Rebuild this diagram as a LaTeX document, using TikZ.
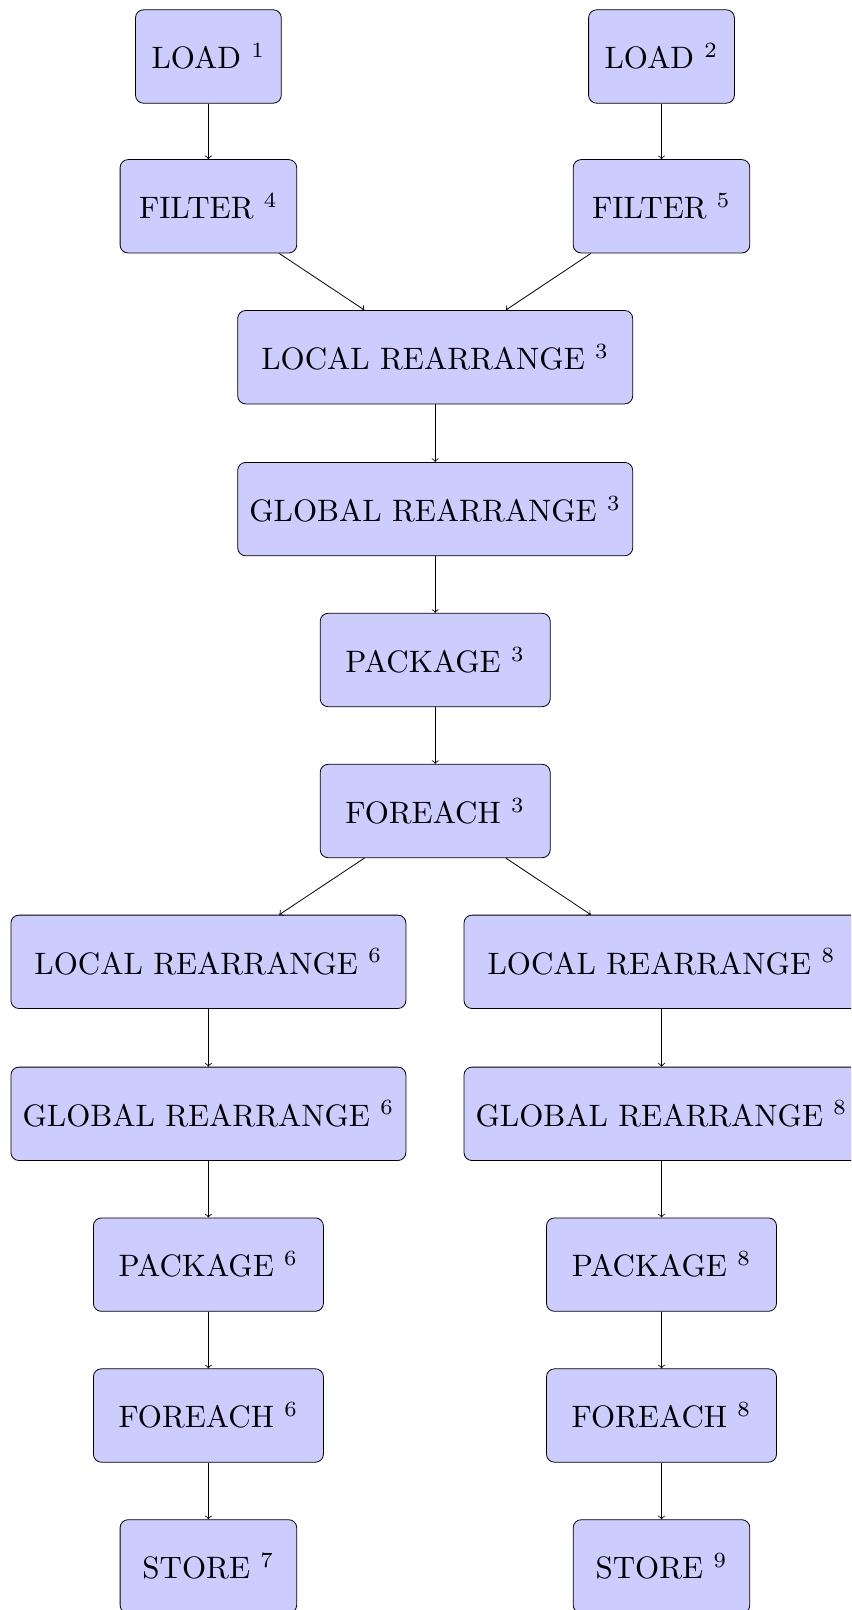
\documentclass[tikz,border=0pt]{standalone}
\newcommand{\lbl}[2]{\scalebox{1.55}{#1 $^{#2}$}}
\begin{document}
\begin{tikzpicture}[x=0.5pt,y=-0.5pt,
  box/.style={draw, fill=blue!20, rounded corners=4pt, minimum height=46.7pt, inner xsep=4pt},
  w1/.style={minimum width=72.9pt},
  w2/.style={minimum width=88.3pt},
  w3/.style={minimum width=115pt},
  w4/.style={minimum width=197.5pt},
  arr/.style={->}]
\useasboundingbox (0,0) rectangle (851,1610);
\clip (0,0) rectangle (851,1610);
\node[box,w1] (load1) at (208.4,56.5) {\lbl{LOAD}{1}};
\node[box,w1] (load2) at (661.5,56.5) {\lbl{LOAD}{2}};
\node[box,w2] (filter4) at (208.4,206.3) {\lbl{FILTER}{4}};
\node[box,w2] (filter5) at (661.5,206.3) {\lbl{FILTER}{5}};
\node[box,w4] (lr3) at (435.2,357.2) {\lbl{LOCAL REARRANGE}{3}};
\node[box,w4] (gr3) at (435.2,509.1) {\lbl{GLOBAL REARRANGE}{3}};
\node[box,w3] (pk3) at (435.2,660) {\lbl{PACKAGE}{3}};
\node[box,w3] (fe3) at (435.2,811) {\lbl{FOREACH}{3}};
\node[box,w4] (lr6) at (208.4,961.8) {\lbl{LOCAL REARRANGE}{6}};
\node[box,w4] (lr8) at (661.5,961.8) {\lbl{LOCAL REARRANGE}{8}};
\node[box,w4] (gr6) at (208.4,1113.8) {\lbl{GLOBAL REARRANGE}{6}};
\node[box,w4] (gr8) at (661.5,1113.8) {\lbl{GLOBAL REARRANGE}{8}};
\node[box,w3] (pk6) at (208.4,1264.6) {\lbl{PACKAGE}{6}};
\node[box,w3] (pk8) at (661.5,1264.6) {\lbl{PACKAGE}{8}};
\node[box,w3] (fe6) at (208.4,1415.5) {\lbl{FOREACH}{6}};
\node[box,w3] (fe8) at (661.5,1415.5) {\lbl{FOREACH}{8}};
\node[box,w2] (st7) at (208.4,1566.4) {\lbl{STORE}{7}};
\node[box,w2] (st9) at (661.5,1566.4) {\lbl{STORE}{9}};
\draw[arr] (load1) -- (filter4);
\draw[arr] (load2) -- (filter5);
\draw[arr] (filter4) -- (lr3);
\draw[arr] (filter5) -- (lr3);
\draw[arr] (lr3) -- (gr3);
\draw[arr] (gr3) -- (pk3);
\draw[arr] (pk3) -- (fe3);
\draw[arr] (fe3) -- (lr6);
\draw[arr] (fe3) -- (lr8);
\draw[arr] (lr6) -- (gr6);
\draw[arr] (lr8) -- (gr8);
\draw[arr] (gr6) -- (pk6);
\draw[arr] (gr8) -- (pk8);
\draw[arr] (pk6) -- (fe6);
\draw[arr] (pk8) -- (fe8);
\draw[arr] (fe6) -- (st7);
\draw[arr] (fe8) -- (st9);
\end{tikzpicture}
\end{document}
